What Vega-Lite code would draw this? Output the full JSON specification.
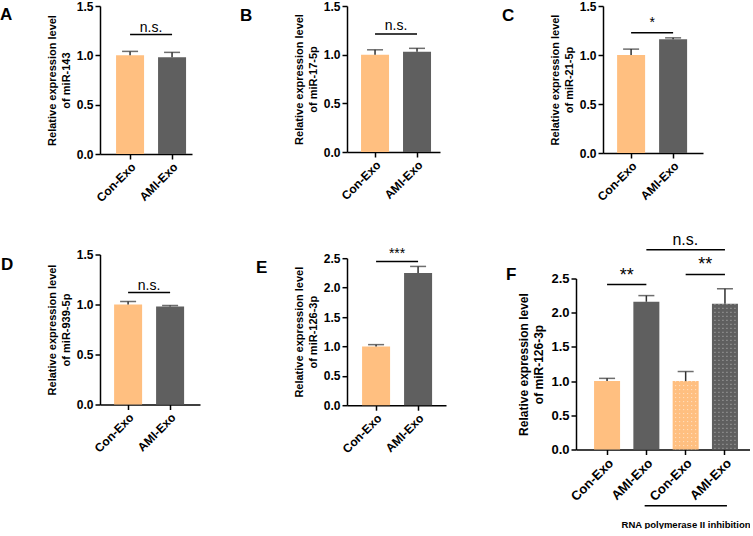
{
  "$schema": "https://vega.github.io/schema/vega-lite/v6.json",
  "padding": 0,
  "autosize": {"type": "pad"},
  "background": "white",
  "config": {
    "view": {"stroke": null},
    "font": "Liberation Sans",
    "axis": {"domainColor": "#000", "domainWidth": 1.5, "tickColor": "#000", "tickWidth": 1.5, "tickSize": 5, "labelFont": "Liberation Sans", "labelFontWeight": "bold", "labelColor": "#000", "labelFontSize": 12, "titleFont": "Liberation Sans", "titleFontWeight": "bold", "titleColor": "#000", "titleFontSize": 11, "titleLineHeight": 14, "grid": false, "labelPadding": 2},
    "title": {"font": "Liberation Sans", "fontSize": 17, "fontWeight": "bold", "color": "#000", "anchor": "start", "frame": "group"},
    "text": {"font": "Liberation Sans", "color": "#000"}
  },
  "resolve": {"scale": {"color": "independent", "x": "independent", "y": "independent"}},
  "bounds": "flush",
  "spacing": 0,
  "hconcat": [
    {
      "vconcat": [
        {
          "width": 92, "height": 148,
          "title": {"text": "A", "dx": -100, "dy": 28},
          "data": {"values": [
            {"group": "Con-Exo", "mean": 1.00, "upper": 1.04},
            {"group": "AMI-Exo", "mean": 0.98, "upper": 1.03}
          ]},
          "encoding": {
            "x": {"field": "group", "type": "nominal", "scale": {"domain": ["Con-Exo", "AMI-Exo"], "paddingInner": 0.333, "paddingOuter": 0.262, "align": 0.73}, "axis": {"title": null, "labelAngle": -45}},
            "y": {"field": "mean", "type": "quantitative", "title": ["Relative expression level", "of miR-143"], "scale": {"domain": [0, 1.5], "nice": false}, "axis": {"values": [0, 0.5, 1, 1.5], "format": ".1f", "titlePadding": 5}}
          },
          "layer": [
            {"mark": {"type": "bar"}, "encoding": {
              "color": {"field": "group", "type": "nominal", "scale": {"domain": ["Con-Exo", "AMI-Exo"], "range": ["#FFBF80", "#5F5F5F"]}, "legend": null}}},
            {"mark": {"type": "rule", "color": "#303030", "strokeWidth": 1.5}, "encoding": {"y2": {"field": "upper"}}},
            {"mark": {"type": "tick", "color": "#303030", "thickness": 1.5}, "encoding": {"y": {"field": "upper", "type": "quantitative", "title": ["Relative expression level", "of miR-143"]}, "size": {"value": 16}}},
            {"data": {"values": [{"group": "Con-Exo", "group2": "AMI-Exo", "line": 1.21, "label": "n.s.", "labelY": 1.232}]},
             "layer": [
               {"mark": {"type": "rule", "color": "#000", "strokeWidth": 1.5}, "encoding": {"y": {"field": "line", "type": "quantitative", "title": ["Relative expression level", "of miR-143"]}, "x2": {"field": "group2"}}},
               {"mark": {"type": "text", "dx": 21, "fontSize": 14, "baseline": "alphabetic"}, "encoding": {"y": {"field": "labelY", "type": "quantitative", "title": ["Relative expression level", "of miR-143"]}, "text": {"field": "label"}}}
             ]}
          ]
        },
        {
          "width": 100, "height": 150,
          "title": {"text": "D", "dx": -99, "dy": 29},
          "data": {"values": [
            {"group": "Con-Exo", "mean": 1.00, "upper": 1.03},
            {"group": "AMI-Exo", "mean": 0.98, "upper": 0.99}
          ]},
          "encoding": {
            "x": {"field": "group", "type": "nominal", "scale": {"domain": ["Con-Exo", "AMI-Exo"], "paddingInner": 0.333, "paddingOuter": 0.357, "align": 0.47}, "axis": {"title": null, "labelAngle": -45}},
            "y": {"field": "mean", "type": "quantitative", "title": ["Relative expression level", "of miR-939-5p"], "scale": {"domain": [0, 1.5], "nice": false}, "axis": {"values": [0, 0.5, 1, 1.5], "format": ".1f", "titlePadding": 5}}
          },
          "layer": [
            {"mark": {"type": "bar"}, "encoding": {
              "color": {"field": "group", "type": "nominal", "scale": {"domain": ["Con-Exo", "AMI-Exo"], "range": ["#FFBF80", "#5F5F5F"]}, "legend": null}}},
            {"mark": {"type": "rule", "color": "#303030", "strokeWidth": 1.5}, "encoding": {"y2": {"field": "upper"}}},
            {"mark": {"type": "tick", "color": "#303030", "thickness": 1.5}, "encoding": {"y": {"field": "upper", "type": "quantitative", "title": ["Relative expression level", "of miR-939-5p"]}, "size": {"value": 16}}},
            {"data": {"values": [{"group": "Con-Exo", "group2": "AMI-Exo", "line": 1.12, "label": "n.s.", "labelY": 1.147}]},
             "layer": [
               {"mark": {"type": "rule", "color": "#000", "strokeWidth": 1.5}, "encoding": {"y": {"field": "line", "type": "quantitative", "title": ["Relative expression level", "of miR-939-5p"]}, "x2": {"field": "group2"}}},
               {"mark": {"type": "text", "dx": 21, "fontSize": 14, "baseline": "alphabetic"}, "encoding": {"y": {"field": "labelY", "type": "quantitative", "title": ["Relative expression level", "of miR-939-5p"]}, "text": {"field": "label"}}}
             ]}
          ]
        }
      ],
      "spacing": 100.5,
      "bounds": "flush",
      "resolve": {"scale": {"color": "independent", "x": "independent", "y": "independent"}}
    },
    {"width": 247, "height": 1, "data": {"values": [{}]}, "mark": {"type": "point", "opacity": 0, "size": 0}, "encoding": {}},
    {
      "vconcat": [
        {
          "width": 93, "height": 146,
          "title": {"text": "B", "dx": -107, "dy": 29},
          "data": {"values": [
            {"group": "Con-Exo", "mean": 1.00, "upper": 1.05},
            {"group": "AMI-Exo", "mean": 1.03, "upper": 1.065}
          ]},
          "encoding": {
            "x": {"field": "group", "type": "nominal", "scale": {"domain": ["Con-Exo", "AMI-Exo"], "paddingInner": 0.333, "paddingOuter": 0.274, "align": 0.61}, "axis": {"title": null, "labelAngle": -45}},
            "y": {"field": "mean", "type": "quantitative", "title": ["Relative expression level", "of miR-17-5p"], "scale": {"domain": [0, 1.5], "nice": false}, "axis": {"values": [0, 0.5, 1, 1.5], "format": ".1f", "titlePadding": 5}}
          },
          "layer": [
            {"mark": {"type": "bar"}, "encoding": {
              "color": {"field": "group", "type": "nominal", "scale": {"domain": ["Con-Exo", "AMI-Exo"], "range": ["#FFBF80", "#5F5F5F"]}, "legend": null}}},
            {"mark": {"type": "rule", "color": "#303030", "strokeWidth": 1.5}, "encoding": {"y2": {"field": "upper"}}},
            {"mark": {"type": "tick", "color": "#303030", "thickness": 1.5}, "encoding": {"y": {"field": "upper", "type": "quantitative", "title": ["Relative expression level", "of miR-17-5p"]}, "size": {"value": 16}}},
            {"data": {"values": [{"group": "Con-Exo", "group2": "AMI-Exo", "line": 1.212, "label": "n.s.", "labelY": 1.253}]},
             "layer": [
               {"mark": {"type": "rule", "color": "#000", "strokeWidth": 1.5}, "encoding": {"y": {"field": "line", "type": "quantitative", "title": ["Relative expression level", "of miR-17-5p"]}, "x2": {"field": "group2"}}},
               {"mark": {"type": "text", "dx": 21, "fontSize": 14, "baseline": "alphabetic"}, "encoding": {"y": {"field": "labelY", "type": "quantitative", "title": ["Relative expression level", "of miR-17-5p"]}, "text": {"field": "label"}}}
             ]}
          ]
        },
        {
          "width": 99, "height": 147,
          "title": {"text": "E", "dx": -91, "dy": 34},
          "data": {"values": [
            {"group": "Con-Exo", "mean": 1.00, "upper": 1.03},
            {"group": "AMI-Exo", "mean": 2.25, "upper": 2.36}
          ]},
          "encoding": {
            "x": {"field": "group", "type": "nominal", "scale": {"domain": ["Con-Exo", "AMI-Exo"], "paddingInner": 0.333, "paddingOuter": 0.345, "align": 0.52}, "axis": {"title": null, "labelAngle": -45}},
            "y": {"field": "mean", "type": "quantitative", "title": ["Relative expression level", "of miR-126-3p"], "scale": {"domain": [0, 2.5], "nice": false}, "axis": {"values": [0, 0.5, 1, 1.5, 2, 2.5], "format": ".1f", "titlePadding": 5}}
          },
          "layer": [
            {"mark": {"type": "bar"}, "encoding": {
              "color": {"field": "group", "type": "nominal", "scale": {"domain": ["Con-Exo", "AMI-Exo"], "range": ["#FFBF80", "#5F5F5F"]}, "legend": null}}},
            {"mark": {"type": "rule", "color": "#303030", "strokeWidth": 1.5}, "encoding": {"y2": {"field": "upper"}}},
            {"mark": {"type": "tick", "color": "#303030", "thickness": 1.5}, "encoding": {"y": {"field": "upper", "type": "quantitative", "title": ["Relative expression level", "of miR-126-3p"]}, "size": {"value": 16}}},
            {"data": {"values": [{"group": "Con-Exo", "group2": "AMI-Exo", "line": 2.445, "label": "***", "labelY": 2.51}]},
             "layer": [
               {"mark": {"type": "rule", "color": "#000", "strokeWidth": 1.5}, "encoding": {"y": {"field": "line", "type": "quantitative", "title": ["Relative expression level", "of miR-126-3p"]}, "x2": {"field": "group2"}}},
               {"mark": {"type": "text", "dx": 21, "fontSize": 14, "baseline": "alphabetic"}, "encoding": {"y": {"field": "labelY", "type": "quantitative", "title": ["Relative expression level", "of miR-126-3p"]}, "text": {"field": "label"}}}
             ]}
          ]
        }
      ],
      "spacing": 106.2,
      "bounds": "flush",
      "resolve": {"scale": {"color": "independent", "x": "independent", "y": "independent"}}
    },
    {"width": 229, "height": 1, "data": {"values": [{}]}, "mark": {"type": "point", "opacity": 0, "size": 0}, "encoding": {}},
    {
      "vconcat": [
        {
          "hconcat": [
            {"width": 27, "height": 1, "data": {"values": [{}]}, "mark": {"type": "point", "opacity": 0, "size": 0}, "encoding": {}},
            {
              "width": 100, "height": 147,
              "title": {"text": "C", "dx": -101, "dy": 29},
              "data": {"values": [
                {"group": "Con-Exo", "mean": 1.00, "upper": 1.06},
                {"group": "AMI-Exo", "mean": 1.16, "upper": 1.175}
              ]},
              "encoding": {
                "x": {"field": "group", "type": "nominal", "scale": {"domain": ["Con-Exo", "AMI-Exo"], "paddingInner": 0.333, "paddingOuter": 0.357, "align": 0.47}, "axis": {"title": null, "labelAngle": -45}},
                "y": {"field": "mean", "type": "quantitative", "title": ["Relative expression level", "of miR-21-5p"], "scale": {"domain": [0, 1.5], "nice": false}, "axis": {"values": [0, 0.5, 1, 1.5], "format": ".1f", "titlePadding": 5}}
              },
              "layer": [
                {"mark": {"type": "bar"}, "encoding": {
                  "color": {"field": "group", "type": "nominal", "scale": {"domain": ["Con-Exo", "AMI-Exo"], "range": ["#FFBF80", "#5F5F5F"]}, "legend": null}}},
                {"mark": {"type": "rule", "color": "#303030", "strokeWidth": 1.5}, "encoding": {"y2": {"field": "upper"}}},
                {"mark": {"type": "tick", "color": "#303030", "thickness": 1.5}, "encoding": {"y": {"field": "upper", "type": "quantitative", "title": ["Relative expression level", "of miR-21-5p"]}, "size": {"value": 16}}},
                {"data": {"values": [{"group": "Con-Exo", "group2": "AMI-Exo", "line": 1.228, "label": "*", "labelY": 1.289}]},
                 "layer": [
                   {"mark": {"type": "rule", "color": "#000", "strokeWidth": 1.5}, "encoding": {"y": {"field": "line", "type": "quantitative", "title": ["Relative expression level", "of miR-21-5p"]}, "x2": {"field": "group2"}}},
                   {"mark": {"type": "text", "dx": 21, "fontSize": 14, "baseline": "alphabetic"}, "encoding": {"y": {"field": "labelY", "type": "quantitative", "title": ["Relative expression level", "of miR-21-5p"]}, "text": {"field": "label"}}}
                 ]}
              ]
            }
          ],
          "spacing": 0,
          "bounds": "flush",
          "resolve": {"scale": {"color": "independent", "x": "independent", "y": "independent"}}
        },
        {
          "width": 174, "height": 171,
          "title": {"text": "F", "dx": -70, "dy": 56},
          "data": {"values": [
            {"group": "Con-Exo", "mean": 1.00, "upper": 1.04},
            {"group": "AMI-Exo", "mean": 2.16, "upper": 2.25},
            {"group": "Con-Exo + inhibitor", "mean": 1.00, "upper": 1.14},
            {"group": "AMI-Exo + inhibitor", "mean": 2.13, "upper": 2.35}
          ]},
          "encoding": {
            "x": {"field": "group", "type": "nominal", "scale": {"domain": ["Con-Exo", "AMI-Exo", "Con-Exo + inhibitor", "AMI-Exo + inhibitor"], "paddingInner": 0.338, "paddingOuter": 0.383, "align": 0.6}, "axis": {"title": "RNA polymerase II inhibition", "titleAnchor": "end", "titleFontSize": 9.5, "titlePadding": 16, "labelAngle": -45, "labelFontSize": 13, "labelExpr": "replace(datum.label, ' + inhibitor', '')"}},
            "y": {"field": "mean", "type": "quantitative", "title": ["Relative expression level", "of miR-126-3p"], "scale": {"domain": [0, 2.5], "nice": false}, "axis": {"values": [0, 0.5, 1, 1.5, 2, 2.5], "format": ".1f", "titlePadding": 5, "labelFontSize": 13, "titleFontSize": 12, "titleLineHeight": 15}}
          },
          "layer": [
            {"mark": {"type": "bar"}, "encoding": {
              "color": {"field": "group", "type": "nominal", "scale": {"domain": ["Con-Exo", "AMI-Exo", "Con-Exo + inhibitor", "AMI-Exo + inhibitor"], "range": ["#FFBF80", "#5F5F5F", "#FFBF80", "#5F5F5F"]}, "legend": null}}},
            {"transform": [{"filter": "indexof(datum.group, 'inhibitor') >= 0"}], "mark": {"type": "rule", "color": "white", "strokeWidth": 1, "strokeDash": [1, 3], "opacity": 0.6, "xOffset": -10}, "encoding": {"y2": {"datum": 0}}},
            {"transform": [{"filter": "indexof(datum.group, 'inhibitor') >= 0"}], "mark": {"type": "rule", "color": "white", "strokeWidth": 1, "strokeDash": [1, 3], "opacity": 0.6, "xOffset": -6}, "encoding": {"y2": {"datum": 0}}},
            {"transform": [{"filter": "indexof(datum.group, 'inhibitor') >= 0"}], "mark": {"type": "rule", "color": "white", "strokeWidth": 1, "strokeDash": [1, 3], "opacity": 0.6, "xOffset": -2}, "encoding": {"y2": {"datum": 0}}},
            {"transform": [{"filter": "indexof(datum.group, 'inhibitor') >= 0"}], "mark": {"type": "rule", "color": "white", "strokeWidth": 1, "strokeDash": [1, 3], "opacity": 0.6, "xOffset": 2}, "encoding": {"y2": {"datum": 0}}},
            {"transform": [{"filter": "indexof(datum.group, 'inhibitor') >= 0"}], "mark": {"type": "rule", "color": "white", "strokeWidth": 1, "strokeDash": [1, 3], "opacity": 0.6, "xOffset": 6}, "encoding": {"y2": {"datum": 0}}},
            {"transform": [{"filter": "indexof(datum.group, 'inhibitor') >= 0"}], "mark": {"type": "rule", "color": "white", "strokeWidth": 1, "strokeDash": [1, 3], "opacity": 0.6, "xOffset": 10}, "encoding": {"y2": {"datum": 0}}},
            {"mark": {"type": "rule", "color": "#303030", "strokeWidth": 1.5}, "encoding": {"y2": {"field": "upper"}}},
            {"mark": {"type": "tick", "color": "#303030", "thickness": 1.5}, "encoding": {"y": {"field": "upper", "type": "quantitative", "title": ["Relative expression level", "of miR-126-3p"]}, "size": {"value": 16}}},
            {"data": {"values": [
              {"group": "Con-Exo", "group2": "AMI-Exo", "line": 2.412, "label": "**", "labelY": 2.47},
              {"group": "Con-Exo + inhibitor", "group2": "AMI-Exo + inhibitor", "line": 2.558, "label": "**", "labelY": 2.63},
              {"group": "AMI-Exo", "group2": "AMI-Exo + inhibitor", "line": 2.92, "label": "n.s.", "labelY": 2.99}
            ]},
             "layer": [
               {"mark": {"type": "rule", "color": "#000", "strokeWidth": 1.5}, "encoding": {"y": {"field": "line", "type": "quantitative", "title": ["Relative expression level", "of miR-126-3p"]}, "x2": {"field": "group2"}}},
               {"transform": [{"filter": "datum.label == '**'"}], "mark": {"type": "text", "dx": 19.6, "fontSize": 18, "baseline": "alphabetic"}, "encoding": {"y": {"field": "labelY", "type": "quantitative", "title": ["Relative expression level", "of miR-126-3p"]}, "text": {"field": "label"}}},
               {"transform": [{"filter": "datum.label == 'n.s.'"}], "mark": {"type": "text", "dx": 39, "fontSize": 16, "baseline": "alphabetic"}, "encoding": {"y": {"field": "labelY", "type": "quantitative", "title": ["Relative expression level", "of miR-126-3p"]}, "text": {"field": "label"}}}
             ]},
            {"data": {"values": [{"group": "Con-Exo + inhibitor", "group2": "AMI-Exo + inhibitor", "line": -0.823}]},
             "mark": {"type": "rule", "color": "#000", "strokeWidth": 1.5, "xOffset": -41, "x2Offset": 2},
             "encoding": {"y": {"field": "line", "type": "quantitative", "title": ["Relative expression level", "of miR-126-3p"]}, "x2": {"field": "group2"}}}
          ]
        }
      ],
      "spacing": 272.5,
      "bounds": "flush",
      "resolve": {"scale": {"color": "independent", "x": "independent", "y": "independent"}}
    }
  ]
}
